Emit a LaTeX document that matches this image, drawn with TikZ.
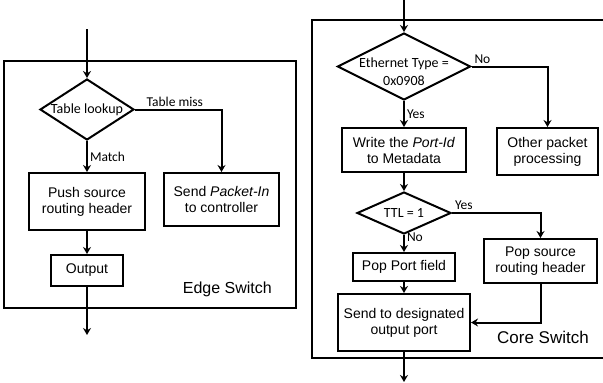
\documentclass[tikz,border=0pt]{standalone}
\usepackage{fontspec}
\setmainfont{Liberation Sans}
\newfontfamily\calibrifont{Carlito}
\usetikzlibrary{positioning,shapes.geometric,arrows.meta}

\begin{document}
\begin{tikzpicture}[x=1pt, y=-1pt,
            process/.style={
                rectangle, draw=black, line width=2pt,
                inner sep=2pt, align=center,
                font=\fontsize{14}{16}\selectfont
            },
            decision/.style={
                diamond, draw=black, line width=2pt,
                inner sep=-5pt, align=center,
                font=\calibrifont\fontsize{14}{18}\selectfont
            },
            flow/.style={line width=2pt, -{Stealth[length=7pt,width=8pt]}},
            branch/.style={font=\calibrifont\fontsize{13.5}{16}\selectfont, inner sep=2pt},
            frame/.style={line width=2pt},
            switchname/.style={inner sep=0pt},
        ]

            \useasboundingbox (0,0) rectangle (603,383);

            % edge switch
            \node [decision, aspect=1.54, minimum width=94pt, minimum height=61pt] (lookup) at (87,109.5) {Table lookup};
            \node [process, minimum width=116pt, minimum height=57pt] (push) [ below=31pt of lookup ] {Push source\\routing header};
            \node [process, minimum width=115pt, minimum height=53pt] (packetin) [ right=17pt of push.north east, anchor=north west ] {Send \textit{Packet-In}\\to controller};
            \node [process, minimum width=72pt, minimum height=31pt] (output) [ below=23pt of push ] {Output};
            \coordinate [ above=49pt of lookup ] (edgein);
            \coordinate [ below=48pt of output ] (edgeout);

            \draw [frame] (4,61) rectangle (296,308);
            \node [switchname, anchor=east, font=\fontsize{16}{18}\selectfont] (edgename) at (272,289) {Edge Switch};

            \draw [flow] (edgein) -- (lookup);
            \draw [flow] (lookup.east) -| (packetin.north) node [branch, above right, pos=0.05] {Table miss};
            \draw [flow] (lookup) -- (push) node [branch, right, midway] {Match};
            \draw [flow] (push) -- (output);
            \draw [flow] (output) -- (edgeout);

            % core switch
            \node [decision, aspect=2, minimum width=133pt, minimum height=67pt] (ethtype) at (404,66.5) {\raisebox{-9.5pt}[0pt][0pt]{\begin{tabular}{@{}c@{}}Ethernet Type =\\0x0908\end{tabular}}};
            \node [process, minimum width=124pt, minimum height=44pt] (portid) [ below=26pt of ethtype ] {Write the \textit{Port-Id}\\to Metadata};
            \node [process, minimum width=101pt, minimum height=47pt] (other) [ right=29pt of portid.north east, anchor=north west ] {Other packet\\processing};
            \node [decision, aspect=2.24, minimum width=94pt, minimum height=42pt] (ttl) [ below=18pt of portid ] {TTL = 1};
            \node [process, minimum width=102pt, minimum height=28pt] (popport) [ below=17pt of ttl ] {Pop Port field};
            \node [process, minimum width=132pt, minimum height=57pt] (designated) [ below=11pt of popport ] {Send to designated\\output port};
            \node [process, minimum width=113pt, minimum height=44pt] (popsrc) [ below=62pt of other, xshift=-7pt ] {Pop source\\routing header};
            \coordinate [ above=33pt of ethtype ] (corein);
            \coordinate [ below=30pt of designated ] (coreout);

            \draw [frame] (312,20) rectangle (610,358);
            \node [switchname, anchor=east, font=\fontsize{17}{19}\selectfont] (corename) at (589,337) {Core Switch};

            \draw [flow] (corein) -- (ethtype);
            \draw [flow] (ethtype.east) -| (other.north) node [branch, above right, pos=0] {No};
            \draw [flow] (ethtype) -- (portid) node [branch, right, midway] {Yes};
            \draw [flow] (portid) -- (ttl);
            \draw [flow] (ttl.east) -| (popsrc.north) node [branch, above right, pos=0] {Yes};
            \draw [flow] (ttl) -- (popport) node [branch, right, pos=0.15] {No};
            \draw [flow] (popport) -- (designated);
            \draw [flow] (popsrc.south) |- (designated.east);
            \draw [flow] (designated) -- (coreout);

\end{tikzpicture}
\end{document}
